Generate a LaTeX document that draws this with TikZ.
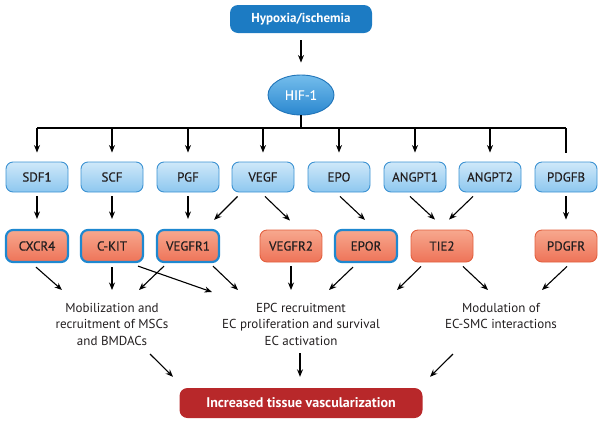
\documentclass[tikz,border=0pt]{standalone}
\usepackage{fontspec}
\setmainfont{PT Sans}
\newfontfamily\boxfont{PT Sans}[FakeBold=0.5]
\usetikzlibrary{calc, shapes.geometric, arrows.meta}

\definecolor{topblue}{HTML}{1C7BC3}
\definecolor{hiftop}{HTML}{74BDEC}
\definecolor{hifbot}{HTML}{2A87CF}
\definecolor{hifborder}{HTML}{1F74B9}
\definecolor{ligtop}{HTML}{CFE8F9}
\definecolor{ligbot}{HTML}{8DC7EF}
\definecolor{ligborder}{HTML}{3C92D2}
\definecolor{rectop}{HTML}{F7A88E}
\definecolor{recbot}{HTML}{EE7358}
\definecolor{recborder}{HTML}{E2603F}
\definecolor{bindblue}{HTML}{1E88D0}
\definecolor{outred}{HTML}{B8282A}
\definecolor{boxtext}{HTML}{231F20}

\begin{document}
\begin{tikzpicture}[x=1pt, y=-1pt,
    ligand/.style={
      rectangle,
      rounded corners=7pt,
      draw=ligborder,
      line width=0.9pt,
      top color=ligtop,
      bottom color=ligbot,
      minimum width=62pt,
      minimum height=30pt,
      inner sep=0pt,
      text=boxtext,
      font=\boxfont\fontsize{13}{15}\selectfont
    },
    receptor/.style={
      ligand,
      draw=recborder,
      top color=rectop,
      bottom color=recbot,
      minimum height=32pt
    },
    bound/.style={receptor, draw=bindblue, line width=2.2pt},
    outcome/.style={
      align=center,
      anchor=north,
      inner sep=0pt,
      text=boxtext,
      font=\fontsize{13}{16.5}\selectfont
    },
    link/.style={->, line width=1.1pt},
    >={Stealth[length=7.5pt, width=6pt]}]
  \useasboundingbox (0,0) rectangle (602,424);

  % stimulus and transcription factor
  \node[rectangle, rounded corners=8pt, fill=topblue, text=white,
    minimum width=142pt, minimum height=28pt, inner sep=0pt,
    font=\fontsize{13}{15}\selectfont\bfseries] (hyp) at (301,19) {Hypoxia/ischemia};
  \node[ellipse, draw=hifborder, line width=0.9pt, top color=hiftop, bottom color=hifbot,
    minimum width=66pt, minimum height=40pt, inner sep=0pt, text=white,
    font=\boxfont\fontsize{13.5}{15}\selectfont] (hif) at (301,95) {HIF-1};
  \draw[link, shorten <=7pt, shorten >=12pt] (hyp) -- (hif);

  % ligands
  \node[ligand] (sdf) at (37,177) {SDF1};
  \node[ligand] (scf) at (112,177) {SCF};
  \node[ligand] (pgf) at (188,177) {PGF};
  \node[ligand] (vegf) at (263,177) {VEGF};
  \node[ligand] (epo) at (339,177) {EPO};
  \node[ligand] (angptone) at (415,177) {ANGPT1};
  \node[ligand] (angpttwo) at (490,177) {ANGPT2};
  \node[ligand] (pdgfb) at (566,177) {PDGFB};

  % receptors
  \node[bound] (cxcr) at (37,246) {CXCR4};
  \node[bound] (ckit) at (112,246) {C-KIT};
  \node[bound] (vegfrone) at (188,246) {VEGFR1};
  \node[receptor] (vegfrtwo) at (291,246) {VEGFR2};
  \node[bound] (epor) at (366,246) {EPOR};
  \node[receptor] (tie) at (442,246) {TIE2};
  \node[receptor] (pdgfr) at (566,246) {PDGFR};

  % effects
  \node[outcome] (mob) at (112,303) {Mobilization and\\recruitment of MSCs\\and BMDACs};
  \node[outcome] (epc) at (301,303) {EPC recruitment\\EC proliferation and survival\\EC activation};
  \node[outcome] (mod) at (501,303) {Modulation of\\EC-SMC interactions};
  \node[rectangle, rounded corners=8pt, fill=outred, text=white,
    minimum width=243pt, minimum height=30pt, inner sep=0pt,
    font=\fontsize{14}{16}\selectfont\bfseries] (vasc) at (301,403) {Increased tissue vascularization};

  % HIF-1 targets
  \coordinate (bus) at (301,128);
  \draw[line width=1.1pt] (hif.south) -- (bus);
  \draw[line width=1.1pt] (bus -| sdf) -- (bus -| pdgfb);
  \foreach \n in {sdf,scf,pgf,vegf,epo,angptone,angpttwo}
    \draw[link, shorten >=9pt] (bus -| \n) -- (\n);
  \draw[line width=1.1pt, shorten >=9pt] (bus -| pdgfb) -- (pdgfb);

  % ligand -> receptor
  \foreach \a/\b in {sdf/cxcr,scf/ckit,pgf/vegfrone,pdgfb/pdgfr}
    \draw[link, shorten <=4pt, shorten >=10pt] (\a) -- (\b);
  \draw[link] ($(vegf.south west)+(6,4)$) -- ($(vegfrone.north east)+(-6,-9)$);
  \draw[link] ($(vegf.south)+(2,4)$) -- ($(vegfrtwo.north)+(-1,-9)$);
  \draw[link] ($(epo.south)+(1,4)$) -- ($(epor.north)+(-1,-9)$);
  \draw[link] ($(angptone.south)+(-5,4)$) -- ($(tie.north)+(-7,-10)$);
  \draw[link] ($(angpttwo.south)+(-17,4)$) -- ($(tie.north)+(7,-10)$);

  % receptor -> effect
  \draw[link] ($(cxcr.south)+(-1,4)$) -- ($(mob.north)+(-50,-13)$);
  \draw[link] ($(ckit.south)+(0,4)$) -- ($(mob.north)+(0,-13)$);
  \draw[link] ($(ckit.south)+(26,3)$) -- ($(epc.north)+(-89,-11)$);
  \draw[link] ($(vegfrone.south)+(-24,3)$) -- ($(mob.north)+(27,-13)$);
  \draw[link] ($(vegfrone.south)+(25,3)$) -- ($(epc.north)+(-63,-13)$);
  \draw[link] ($(vegfrtwo.south)+(0,4)$) -- ($(epc.north)+(-10,-13)$);
  \draw[link] ($(epor.south)+(-13,4)$) -- ($(epc.north)+(28,-13)$);
  \draw[link] ($(tie.south)+(-21,4)$) -- ($(epc.north)+(96,-13)$);
  \draw[link] ($(tie.south)+(21,4)$) -- ($(mod.north)+(-13,-13)$);
  \draw[link] ($(pdgfr.south)+(1,4)$) -- ($(mod.north)+(41,-13)$);

  % effect -> outcome
  \draw[link] ($(mob.north)+(38,51)$) -- ($(vasc.north)+(-128,-11)$);
  \draw[link] ($(epc.north)+(-1,50)$) -- ($(vasc.north)+(-1,-11)$);
  \draw[link] ($(mod.north)+(-48,51)$) -- ($(vasc.north)+(129,-11)$);
\end{tikzpicture}
\end{document}
